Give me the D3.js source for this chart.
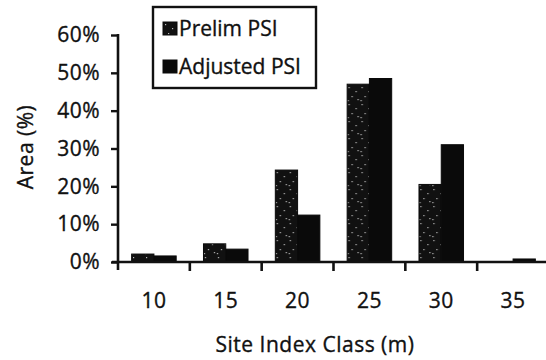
<!DOCTYPE html>
<html>
<head>
<meta charset="utf-8">
<script src="https://cdn.jsdelivr.net/npm/d3@7"></script>
<style>
  body { margin: 0; background: #fff; }
  svg { display: block; }
  text { font-family: "Open Sans", sans-serif; fill: #111; stroke: #111; stroke-width: 0.35px; }
</style>
</head>
<body>
<svg width="546" height="360"></svg>
<script>
// data
var classes = ["10", "15", "20", "25", "30", "35"];
var seriesNames = ["Prelim PSI", "Adjusted PSI"];
var prelim = [2.1, 4.8, 24.3, 47, 20.5, 0];
var adjusted = [1.6, 3.4, 12.4, 48.5, 31, 0.8];
var yTicks = [0, 10, 20, 30, 40, 50, 60];

var svg = d3.select("svg");

// speckled dark fill for the preliminary series
var defs = svg.append("defs");
var pat = defs.append("pattern")
    .attr("id", "speck")
    .attr("patternUnits", "userSpaceOnUse")
    .attr("width", 13).attr("height", 17);
pat.append("rect").attr("width", 13).attr("height", 17).attr("fill", "#111");
[[2,2],[9,6],[5,11],[11,14],[1,15]].forEach(function(p) {
  pat.append("rect").attr("x", p[0]).attr("y", p[1])
    .attr("width", 1.2).attr("height", 1.2).attr("fill", "#bbb");
});

var x = d3.scaleBand().domain(classes).range([118, 549]);
var x1 = d3.scaleBand().domain(seriesNames)
    .range([x.bandwidth() * 0.19, x.bandwidth() * 0.81]);
var y = d3.scaleLinear().domain([0, 60]).range([262, 35]);

var rows = classes.map(function(c, i) {
  return { cls: c, vals: [prelim[i], adjusted[i]] };
});

var group = svg.selectAll(".grp")
  .data(rows)
  .enter().append("g")
    .attr("class", "grp")
    .attr("transform", function(d) { return "translate(" + x(d.cls) + ",0)"; });

group.selectAll("rect")
  .data(function(d) { return d.vals.map(function(v, k) { return { s: seriesNames[k], v: v }; }); })
  .enter().append("rect")
    .attr("x", function(d) { return x1(d.s); })
    .attr("width", x1.bandwidth())
    .attr("y", function(d) { return y(d.v); })
    .attr("height", function(d) { return y(0) - y(d.v); })
    .attr("fill", function(d) { return d.s === seriesNames[0] ? "url(#speck)" : "#0a0a0a"; })
    .attr("stroke", "#0a0a0a")
    .attr("stroke-width", 1);

// y axis
var yAxis = svg.append("g")
    .attr("transform", "translate(118,0)")
    .call(d3.axisLeft(y).tickValues(yTicks)
      .tickFormat(function(d) { return d + "%"; })
      .tickSize(7).tickPadding(11));
yAxis.select(".domain").remove();
yAxis.selectAll("line").attr("stroke", "#111").attr("stroke-width", 2.4);
yAxis.selectAll("text").style("font-size", "21px").attr("letter-spacing", "0.5");
svg.append("line")
    .attr("x1", 118).attr("x2", 118)
    .attr("y1", y(60) - 1).attr("y2", y(0) + 8)
    .attr("stroke", "#111").attr("stroke-width", 2.6);

// x axis: labels at band centres, ticks at band edges
var xAxis = svg.append("g")
    .attr("transform", "translate(0," + y(0) + ")")
    .call(d3.axisBottom(x).tickSize(0).tickPadding(31));
xAxis.select(".domain").remove();
xAxis.selectAll("text").style("font-size", "21px").attr("letter-spacing", "0.5");
svg.append("line")
    .attr("x1", 112).attr("x2", 546)
    .attr("y1", y(0)).attr("y2", y(0))
    .attr("stroke", "#111").attr("stroke-width", 2.6);
svg.selectAll(".xtick")
  .data(classes.slice(1))
  .enter().append("line")
    .attr("class", "xtick")
    .attr("x1", function(d) { return x(d); })
    .attr("x2", function(d) { return x(d); })
    .attr("y1", y(0)).attr("y2", y(0) + 9)
    .attr("stroke", "#111").attr("stroke-width", 2.6);

// axis titles
svg.append("text")
    .attr("transform", "translate(33,147) rotate(-90)")
    .attr("text-anchor", "middle")
    .style("font-size", "21px")
    .attr("letter-spacing", "0.5")
    .text("Area (%)");
svg.append("text")
    .attr("x", 315).attr("y", 352)
    .attr("text-anchor", "middle")
    .style("font-size", "21px")
    .attr("letter-spacing", "0.5")
    .text("Site Index Class (m)");

// legend
var legend = svg.append("g");
legend.append("rect")
    .attr("x", 153).attr("y", 7)
    .attr("width", 163).attr("height", 81)
    .attr("fill", "#fff").attr("stroke", "#111").attr("stroke-width", 2.4);
var item = legend.selectAll(".item")
  .data(seriesNames)
  .enter().append("g")
    .attr("class", "item")
    .attr("transform", function(d, i) { return "translate(163," + (22 + i * 38) + ")"; });
item.append("rect")
    .attr("width", 14).attr("height", 13)
    .attr("fill", function(d, i) { return i === 0 ? "url(#speck)" : "#0a0a0a"; })
    .attr("stroke", "#0a0a0a");
item.append("text")
    .attr("x", 16).attr("y", 14)
    .style("font-size", "21px")
    .text(function(d) { return d; });
</script>
</body>
</html>
